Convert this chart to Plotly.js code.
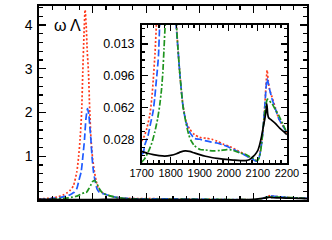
<!DOCTYPE html>
<html>
<head>
<meta charset="utf-8">
<script src="https://cdn.plot.ly/plotly-3.0.1.min.js"></script>
<style>html,body{margin:0;padding:0;background:#fff;}#plot{width:332px;height:240px;}</style>
</head>
<body>
<div id="plot"></div>
<script>
// ---- data ----
var redX = [1700,1710,1718,1728,1735,1740,1746,1752,1758,1764,1770.5,1774,1776.7,1779.5,1781.7,1784,1786,1788,1790,1792.3,1794.5,1797,1800,1803.5,1807,1811,1816,1820,1825,1831,1842,1853,1865,1882,1900,1924,1942,1959,1980,2004,2030,2050,2070,2085,2097,2105,2114,2122,2128,2132,2136,2140,2149,2160,2172,2185,2200];
var redY = [0.026,0.032,0.040,0.054,0.072,0.092,0.120,0.160,0.22,0.32,0.64,1.0,1.40,2.0,2.93,3.8,4.35,4.0,3.4,2.93,2.1,1.40,0.95,0.64,0.42,0.26,0.19,0.15,0.125,0.100,0.065,0.047,0.039,0.033,0.030,0.029,0.028,0.026,0.023,0.020,0.016,0.0126,0.009,0.0065,0.0047,0.010,0.027,0.055,0.085,0.102,0.090,0.082,0.073,0.062,0.050,0.043,0.035];

var blueX = [1700,1705,1711,1722,1730,1739,1745,1750,1754,1758,1762,1766,1770.5,1774.5,1778.6,1781.5,1785,1787.5,1790.5,1793,1795,1796.7,1799,1801.7,1804.5,1808,1813,1820,1825,1831,1842,1853,1865,1871,1881,1900,1917,1940,1959,1980,2004,2030,2050,2070,2085,2097,2105,2114,2122,2128,2132,2136,2140,2149,2160,2172,2185,2200];
var blueY = [0.012,0.013,0.022,0.032,0.044,0.057,0.072,0.089,0.102,0.118,0.150,0.18,0.26,0.45,0.64,0.95,1.40,1.85,2.09,1.95,1.65,1.40,0.98,0.64,0.45,0.26,0.17,0.145,0.125,0.100,0.0645,0.046,0.036,0.033,0.029,0.028,0.0266,0.025,0.024,0.022,0.019,0.015,0.012,0.0085,0.006,0.0045,0.009,0.026,0.055,0.082,0.093,0.088,0.082,0.071,0.061,0.050,0.043,0.035];

var greenX = [1700,1710,1722,1735,1745,1755,1762,1768,1773,1777,1781,1786,1789,1793,1797,1800,1803.5,1807,1810,1813.5,1817,1820,1825,1831,1842,1853,1862,1871,1882,1901,1920,1947,1970,1993,2010,2039,2057,2073,2086,2097,2103,2110,2120,2127,2133,2140,2149,2160,2172,2185,2200];
var greenY = [0.0035,0.007,0.014,0.024,0.0355,0.050,0.064,0.080,0.100,0.125,0.150,0.17,0.18,0.26,0.35,0.42,0.45,0.40,0.32,0.24,0.18,0.150,0.125,0.100,0.064,0.045,0.033,0.026,0.021,0.017,0.0165,0.0155,0.016,0.017,0.0165,0.0133,0.012,0.009,0.0075,0.005,0.007,0.016,0.046,0.064,0.071,0.069,0.066,0.060,0.0535,0.045,0.035];

var blackX = [1700,1720,1740,1760,1780,1800,1820,1835,1850,1865,1880,1900,1920,1940,1960,1980,2000,2020,2040,2057,2070,2080,2090,2100,2106,2112,2118,2124,2128,2131,2134,2137,2145,2160,2175,2190,2200];
var blackY = [0.015,0.013,0.0115,0.0105,0.010,0.0108,0.0125,0.0145,0.0155,0.015,0.0135,0.0115,0.0098,0.0085,0.0075,0.0068,0.0062,0.0056,0.0052,0.0051,0.006,0.0085,0.0115,0.016,0.022,0.030,0.040,0.050,0.058,0.066,0.055,0.051,0.049,0.045,0.040,0.036,0.033];

var mainYTicks = [1,2,3,4];
var insetXTicks = [1700,1800,1900,2000,2100,2200];
var insetYTickVals = [0.028,0.062,0.096,0.13];
var insetYTickText = ['0.028','0.062','0.096','0.013'];
var annotationText = 'ω Λ';

// ---- styles ----
var series = [
  {x: redX, y: redY, color: '#ff3a1c', dash: '2px,2px'},
  {x: blueX, y: blueY, color: '#1f5bff', dash: '7px,3px'},
  {x: greenX, y: greenY, color: '#1e941e', dash: '6px,2px,2px,2px'},
  {x: blackX, y: blackY, color: '#000000', dash: 'solid'}
];

var traces = [];
series.forEach(function(s){
  traces.push({x: s.x, y: s.y, type:'scatter', mode:'lines', xaxis:'x', yaxis:'y',
    line:{color:s.color, width:1.7, dash:s.dash, shape:'spline', smoothing:0.6}, hoverinfo:'skip'});
});
series.forEach(function(s){
  traces.push({x: s.x, y: s.y, type:'scatter', mode:'lines', xaxis:'x2', yaxis:'y2',
    line:{color:s.color, width:1.7, dash:s.dash, shape:'spline', smoothing:0.6}, hoverinfo:'skip'});
});

var fontFam = 'Liberation Sans, Arial, Helvetica, sans-serif';
function baseAxis(){
  return {showgrid:false, zeroline:false, showline:true, linecolor:'black', linewidth:1.6,
    mirror:'allticks', ticks:'inside', tickcolor:'black', tickwidth:1.2};
}
var xa = baseAxis();
Object.assign(xa, {domain:[0,1], range:[1700,2200], tickmode:'linear', tick0:1700, dtick:100, ticklen:7,
  showticklabels:false, anchor:'y',
  minor:{tickmode:'linear', tick0:1700, dtick:25, ticklen:4, ticks:'inside', tickcolor:'black', tickwidth:1.2, showgrid:false}});
var ya = baseAxis();
Object.assign(ya, {domain:[0,1], range:[0,4.435], tickmode:'array', tickvals:mainYTicks, ticklen:7, anchor:'x',
  tickfont:{size:14, family:fontFam, color:'black'}, ticklabelstandoff:2,
  minor:{tickmode:'linear', tick0:0, dtick:0.2, ticklen:4, ticks:'inside', tickcolor:'black', tickwidth:1.2, showgrid:false}});
var xa2 = baseAxis();
Object.assign(xa2, {domain:[0.383,0.925], range:[1700,2200], tickmode:'array', tickvals:insetXTicks, ticklen:6, anchor:'y2',
  tickfont:{size:11, family:fontFam, color:'black'}, ticklabelstandoff:-1,
  minor:{tickmode:'linear', tick0:1700, dtick:20, ticklen:3, ticks:'inside', tickcolor:'black', tickwidth:1.2, showgrid:false}});
var ya2 = baseAxis();
Object.assign(ya2, {domain:[0.1906,0.902], range:[0.00256,0.1504], tickmode:'array', tickvals:insetYTickVals, ticktext:insetYTickText,
  ticklen:6, anchor:'x2', tickfont:{size:12.5, family:fontFam, color:'black'}, ticklabelstandoff:3,
  minor:{tickmode:'linear', tick0:0.028, dtick:0.0085, ticklen:3, ticks:'inside', tickcolor:'black', tickwidth:1.2, showgrid:false}});

var layout = {
  width:332, height:240,
  margin:{l:39, r:25, t:6, b:40, pad:0},
  paper_bgcolor:'white', plot_bgcolor:'white',
  showlegend:false,
  font:{family:fontFam, color:'black'},
  xaxis:xa, yaxis:ya, xaxis2:xa2, yaxis2:ya2,
  annotations:[{text:annotationText, xref:'paper', yref:'paper', x:0.05, y:0.902, xanchor:'left', yanchor:'middle',
    showarrow:false, font:{size:16, family:fontFam, color:'black'}}]
};

Plotly.newPlot('plot', traces, layout, {staticPlot:true, displayModeBar:false});
</script>
</body>
</html>
